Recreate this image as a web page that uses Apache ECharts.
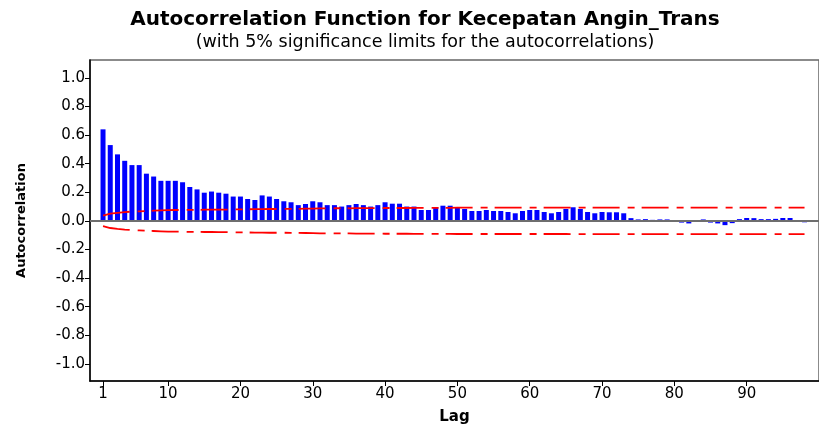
<!DOCTYPE html>
<html>
<head>
<meta charset="utf-8">
<script src="https://cdn.jsdelivr.net/npm/echarts@6/dist/echarts.min.js"></script>
<style>html,body{margin:0;padding:0;background:#fff}#c{width:819px;height:430px}</style>
</head>
<body>
<div id="c"></div>
<script>
const lags = Array.from({length: 98}, (_, i) => i + 1);
const acfValues = [
  0.64, 0.53, 0.465, 0.42, 0.39, 0.39, 0.33, 0.31, 0.28, 0.28,
  0.28, 0.27, 0.237, 0.22, 0.197, 0.205, 0.197, 0.19, 0.17, 0.17,
  0.153, 0.146, 0.178, 0.17, 0.153, 0.137, 0.13, 0.11, 0.118, 0.137,
  0.13, 0.11, 0.11, 0.10, 0.11, 0.118, 0.11, 0.10, 0.11, 0.13,
  0.12, 0.12, 0.10, 0.10, 0.076, 0.076, 0.094, 0.106, 0.106, 0.095,
  0.083, 0.069, 0.069, 0.076, 0.069, 0.069, 0.062, 0.053, 0.069, 0.076,
  0.076, 0.062, 0.053, 0.062, 0.083, 0.095, 0.083, 0.062, 0.053, 0.062,
  0.06, 0.06, 0.053, 0.019, 0.01, 0.012, 0.007, 0.01, 0.01, 0.005,
  -0.012, -0.018, -0.005, 0.01, -0.012, -0.018, -0.03, -0.016, 0.012, 0.02,
  0.019, 0.012, 0.012, 0.014, 0.02, 0.02, 0.005, -0.01
];
const upperLimit = [
  0.037, 0.050, 0.056, 0.061, 0.065, 0.067, 0.069, 0.071, 0.073, 0.075,
  0.076, 0.076, 0.077, 0.077, 0.078, 0.078, 0.079, 0.079, 0.080, 0.081,
  0.081, 0.082, 0.082, 0.083, 0.083, 0.083, 0.084, 0.084, 0.085, 0.086,
  0.087, 0.087, 0.088, 0.088, 0.088, 0.089, 0.089, 0.089, 0.089, 0.090,
  0.090, 0.090, 0.090, 0.091, 0.091, 0.091, 0.091, 0.091, 0.091, 0.092,
  0.092, 0.092, 0.092, 0.092, 0.092, 0.092, 0.092, 0.092, 0.092, 0.092,
  0.092, 0.092, 0.092, 0.092, 0.092, 0.093, 0.093, 0.093, 0.093, 0.093,
  0.093, 0.093, 0.093, 0.093, 0.093, 0.093, 0.093, 0.093, 0.093, 0.093,
  0.093, 0.093, 0.093, 0.093, 0.093, 0.093, 0.093, 0.093, 0.093, 0.093,
  0.093, 0.093, 0.093, 0.093, 0.093, 0.093, 0.093, 0.093
];
const lowerLimit = [
  -0.037, -0.050, -0.056, -0.061, -0.065, -0.067, -0.069, -0.071, -0.073, -0.075,
  -0.076, -0.076, -0.077, -0.077, -0.078, -0.078, -0.079, -0.079, -0.080, -0.081,
  -0.081, -0.082, -0.082, -0.083, -0.083, -0.083, -0.084, -0.084, -0.085, -0.086,
  -0.087, -0.087, -0.088, -0.088, -0.088, -0.089, -0.089, -0.089, -0.089, -0.090,
  -0.090, -0.090, -0.090, -0.091, -0.091, -0.091, -0.091, -0.091, -0.091, -0.092,
  -0.092, -0.092, -0.092, -0.092, -0.092, -0.092, -0.092, -0.092, -0.092, -0.092,
  -0.092, -0.092, -0.092, -0.092, -0.092, -0.093, -0.093, -0.093, -0.093, -0.093,
  -0.093, -0.093, -0.093, -0.093, -0.093, -0.093, -0.093, -0.093, -0.093, -0.093,
  -0.093, -0.093, -0.093, -0.093, -0.093, -0.093, -0.093, -0.093, -0.093, -0.093,
  -0.093, -0.093, -0.093, -0.093, -0.093, -0.093, -0.093, -0.093
];
const xTickValues = [1, 10, 20, 30, 40, 50, 60, 70, 80, 90];
const yTickValues = [-1.0, -0.8, -0.6, -0.4, -0.2, 0.0, 0.2, 0.4, 0.6, 0.8, 1.0];
const titleText = 'Autocorrelation Function for Kecepatan Angin_Trans';
const subtitleText = '(with 5% significance limits for the autocorrelations)';

const FONT = 'DejaVu Sans';
const chart = echarts.init(document.getElementById('c'), null, {renderer: 'canvas'});
const pair = (arr) => lags.map((l, i) => [l, arr[i]]);
const limitStyle = {color: '#ff0000', width: 1.8, type: [27, 8, 7, 7]};

chart.setOption({
  animation: false,
  backgroundColor: '#ffffff',
  title: {
    text: titleText,
    subtext: subtitleText,
    left: 420, top: 5, textAlign: 'center',
    itemGap: 3,
    textStyle: {fontFamily: FONT, fontSize: 20, fontWeight: 'bold', color: '#000'},
    subtextStyle: {fontFamily: FONT, fontSize: 17.5, color: '#000'}
  },
  grid: {left: 90, top: 60, right: -2, bottom: 47, show: true, borderColor: '#666', borderWidth: 1.5},
  xAxis: {
    type: 'value', min: -0.8, max: 100,
    name: 'Lag', nameLocation: 'middle', nameGap: 29,
    nameTextStyle: {fontFamily: FONT, fontSize: 15, fontWeight: 'bold', color: '#000'},
    axisLine: {show: true, onZero: false, lineStyle: {color: '#000', width: 1.5}},
    axisTick: {show: true, inside: false, customValues: xTickValues, length: 5, lineStyle: {color: '#000'}},
    axisLabel: {customValues: xTickValues, fontFamily: FONT, fontSize: 15, color: '#000', margin: 6},
    splitLine: {show: false}
  },
  yAxis: {
    type: 'value', min: -1.12, max: 1.125,
    name: 'Autocorrelation', nameLocation: 'middle', nameGap: 62,
    nameTextStyle: {fontFamily: FONT, fontSize: 13, fontWeight: 'bold', color: '#000', padding: [0, 0, 0, 0]},
    axisLine: {show: true, onZero: false, lineStyle: {color: '#000', width: 1.5}},
    axisTick: {show: true, inside: false, customValues: yTickValues, length: 5, lineStyle: {color: '#000'}},
    axisLabel: {customValues: yTickValues, fontFamily: FONT, fontSize: 15, color: '#000', margin: 5,
      formatter: (v) => (Math.abs(v) < 1e-9 ? 0 : v).toFixed(1)},
    splitLine: {show: false}
  },
  series: [
    {
      type: 'bar', data: pair(acfValues), barWidth: 5,
      itemStyle: {color: '#0000ff'},
      markLine: {
        silent: true, symbol: 'none', label: {show: false},
        lineStyle: {color: '#6e6e6e', width: 2, type: 'solid'},
        data: [{yAxis: 0}]
      },
      z: 2
    },
    {type: 'line', data: pair(upperLimit), showSymbol: false, symbol: 'none', lineStyle: limitStyle, z: 3},
    {type: 'line', data: pair(lowerLimit), showSymbol: false, symbol: 'none', lineStyle: limitStyle, z: 3}
  ]
});
</script>
</body>
</html>
